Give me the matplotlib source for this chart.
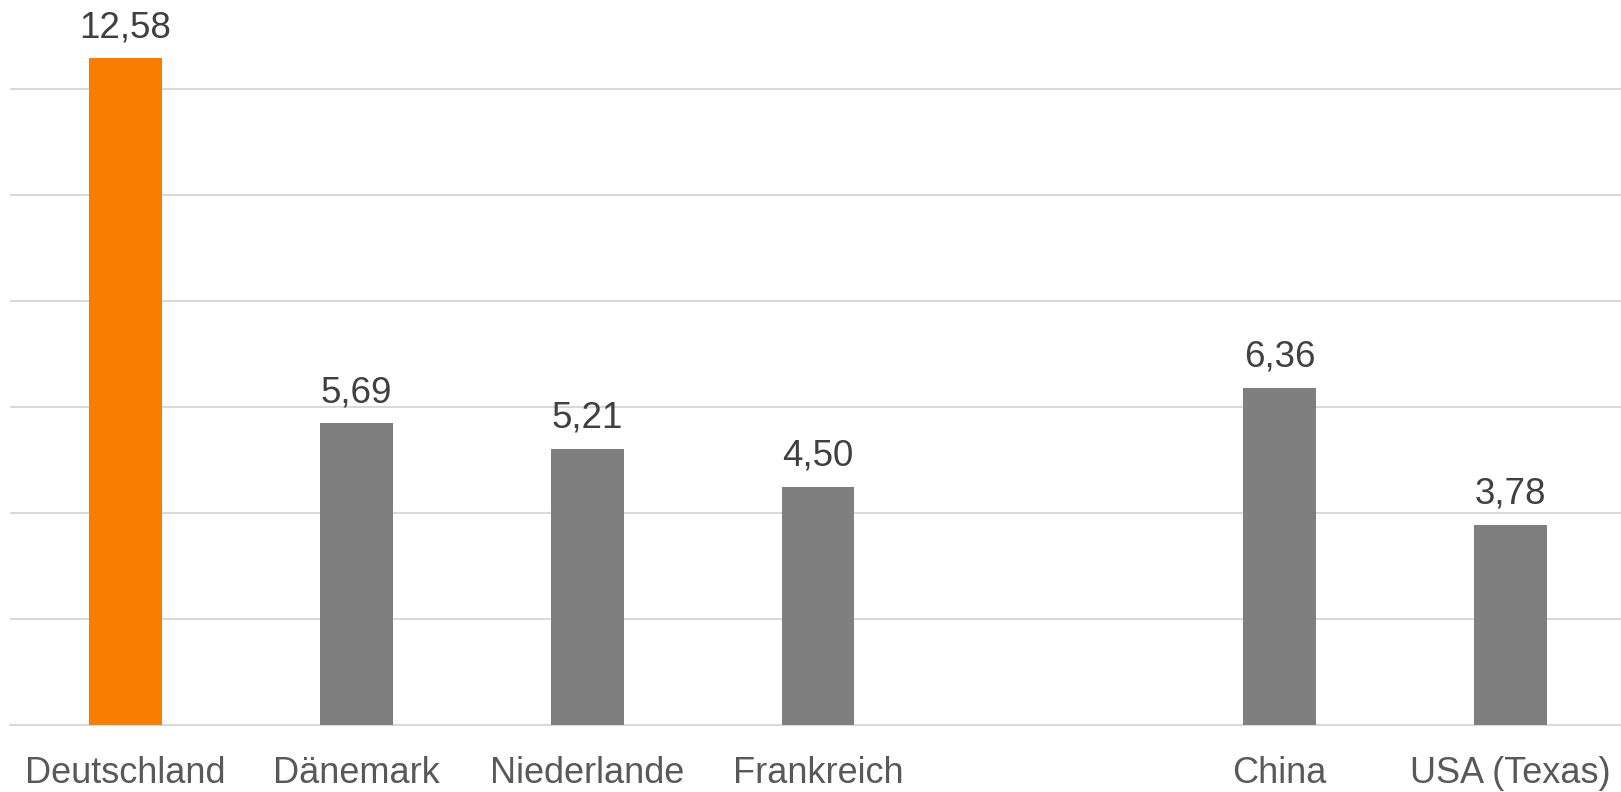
import numpy as np
import matplotlib
matplotlib.use('Agg')
from matplotlib import pyplot as plt

# Balkendiagramm, die Lücke zwischen Frankreich und China ist ein leerer Platz
categories = ['Deutschland', 'Dänemark', 'Niederlande', 'Frankreich', '', 'China', 'USA (Texas)']
values = [12.58, 5.69, 5.21, 4.50, np.nan, 6.36, 3.78]
colors = ['#F87E00', '#7F7F7F', '#7F7F7F', '#7F7F7F', '#7F7F7F', '#7F7F7F', '#7F7F7F']

plt.rcParams['font.family'] = ['Liberation Sans', 'DejaVu Sans']

fig = plt.figure(figsize=(16.21, 7.92), dpi=100)
# Achse etwas breiter als das Bild, damit die Abstände passen
ax = fig.add_axes([10 / 1621, 1 - 725 / 792, 1616 / 1621, 725 / 792])

x = np.arange(len(categories))
ax.bar(x, values, width=0.316, color=colors, zorder=3)

for xi, v in zip(x, values):
    if np.isnan(v):
        continue
    ax.annotate(f'{v:.2f}'.replace('.', ','), (xi, v), xytext=(0, 9.5),
                textcoords='offset points', ha='center', va='bottom',
                fontsize=26.5, color='#404040')

ax.set_xlim(-0.5, len(categories) - 0.5)
ax.set_ylim(0, 725 / 53)
ax.set_yticks(np.arange(0, 13, 2))
ax.yaxis.grid(True, color='#D9D9D9', linewidth=1.5, zorder=0)
ax.tick_params(axis='y', left=False, labelleft=False)
ax.tick_params(axis='x', length=0, pad=22, labelsize=26, labelcolor='#595959')
ax.set_xticks(x)
ax.set_xticklabels(categories)
for s in ['top', 'right', 'left']:
    ax.spines[s].set_visible(False)
ax.spines['bottom'].set_color('#D9D9D9')
ax.spines['bottom'].set_linewidth(1.5)

fig.savefig('out.png', dpi=100)
